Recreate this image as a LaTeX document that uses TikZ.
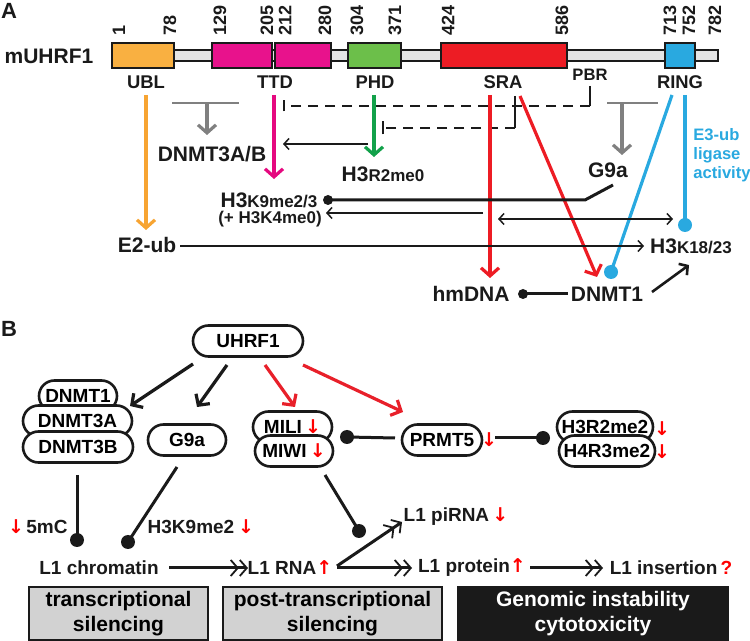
\documentclass[tikz,border=0pt]{standalone}
\usepackage{fontspec}
\setmainfont{Liberation Sans}
\newfontfamily\arrfont{DejaVu Sans}
\usetikzlibrary{arrows.meta,shapes.misc}
\definecolor{cUBL}{HTML}{F9B041}
\definecolor{lUBL}{HTML}{F7A432}
\definecolor{cTTD}{HTML}{E8128C}
\definecolor{lTTD}{HTML}{E5097F}
\definecolor{cPHD}{HTML}{6CBF4A}
\definecolor{lPHD}{HTML}{12A14A}
\definecolor{cSRA}{HTML}{ED1C24}
\definecolor{cRING}{HTML}{29A9E0}
\definecolor{cgrey}{HTML}{808080}
\definecolor{barg}{HTML}{E4E4E4}
\definecolor{boxg}{HTML}{D2D2D2}
\definecolor{rB}{HTML}{E8202A}
\definecolor{ink}{HTML}{1A1A1A}
\newcommand\fs[2]{\fontsize{#1}{#2}\selectfont\bfseries}
\newcommand\dn{{\arrfont\color{red}\char"2193}}
\newcommand\up{{\arrfont\color{red}\char"2191}}
\begin{document}
\begin{tikzpicture}[x=0.5pt,y=-0.5pt,
  lblA/.style={font=\fs{10.5}{12}, inner sep=1pt, text=ink},
  dom/.style={font=\fs{9.2}{11}, inner sep=1pt, text=ink},
  num/.style={font=\fs{9}{10}, rotate=90, anchor=west, inner sep=0pt, text=ink},
  lblB/.style={font=\fs{9.5}{11}, inner sep=1pt, text=ink},
  pill/.style={rounded rectangle, draw=ink, line width=1.3pt, fill=white, font=\fs{9.5}{11}, inner sep=0pt, minimum height=15.5pt},
  colar/.style={line width=1.6pt, -{Straight Barb[length=4pt,width=9pt]}},
  thinar/.style={line width=0.75pt, draw=ink, -{Straight Barb[length=2.5pt,width=5.5pt]}},
  dsh/.style={line width=1pt, draw=ink, dash pattern=on 5pt off 3.5pt},
  dotk/.style={circle, fill=ink, inner sep=0pt, minimum size=5pt},
  dotB/.style={circle, fill=ink, inner sep=0pt, minimum size=7pt},
  dotb/.style={circle, fill=cRING, inner sep=0pt, minimum size=7pt},
  barr/.style={line width=1.6pt, -{Straight Barb[length=4pt,width=8.5pt]}},
  dbl/.style={line width=1.5pt, draw=ink, -{Straight Barb[length=3.5pt,width=8pt,line width=0.9pt] Straight Barb[length=3.5pt,width=8pt,line width=0.9pt]}},
  bbox/.style={draw=ink, line width=1pt, align=center, font=\fs{10.5}{12.5}, inner sep=0pt, minimum height=26.5pt}
]
\useasboundingbox (0,0) rectangle (750,641);
% ---------------- Panel A ----------------
\node[lblA, font=\fs{11}{13}] (pA) at (9,11) {A};
\node[lblA] (mU) at (49,56) {mUHRF1};
\draw[line width=1pt, draw=ink, fill=barg] (112,50.5) rectangle (718,61.5);
\draw[line width=1pt, draw=ink, fill=cUBL] (112,43) rectangle (174,68);
\draw[line width=1pt, draw=ink, fill=cTTD] (212,43) rectangle (272,68);
\draw[line width=1pt, draw=ink, fill=cTTD] (275,43) rectangle (331,68);
\draw[line width=1pt, draw=ink, fill=cPHD] (348,43) rectangle (401,68);
\draw[line width=1pt, draw=ink, fill=cSRA] (441,43) rectangle (567,68);
\draw[line width=1pt, draw=ink, fill=cRING] (665,43) rectangle (695,68);
\foreach \x/\t in {119/1,170/78,220/129,267/205,285/212,325/280,357/304,395/371,448/424,562/586,670/713,689/752,715/782}
  \node[num] (n\t) at (\x,36) {\t};
\node[dom] (UBL) at (146,82) {UBL};
\node[dom] (TTD) at (275,82) {TTD};
\node[dom] (PHD) at (375,82) {PHD};
\node[dom] (SRA) at (503,82) {SRA};
\node[dom] (RING) at (680,82) {RING};
\node[dom, font=\fs{8.3}{10}] (PBR) at (590,75) {PBR};
% target labels
\node[lblA] (E2ub) at (147,245) {E2-ub};
\node[lblA] (D3AB) at (212,154) {DNMT3A/B};
\node[lblA] (H3R2) at (383,174) {H3{\fs{8.5}{10}R2me0}};
\node[lblA] (H3K9) at (269,200) {H3{\fs{8.5}{10}K9me2/3}};
\node[lblA, font=\fs{8.5}{10}] (H3K4) at (270,219) {(+ H3K4me0)};
\node[lblA] (G9aA) at (608,170) {G9a};
\node[lblA] (H3K18) at (691,246) {H3{\fs{8.5}{10}K18/23}};
\node[lblA] (hmDNA) at (471,294) {hmDNA};
\node[lblA] (DNMT1A) at (607,294) {DNMT1};
\node[lblA, font=\fs{8.3}{9.5}, text=cRING, align=left, anchor=north west] (E3) at (691,126) {E3-ub\\ligase\\activity};
% coordinates
\coordinate (o1) at (146,95); \coordinate (o2) at (146,230);
\coordinate (g1) at (172,103); \coordinate (g2) at (239,103); \coordinate (g3) at (207,103); \coordinate (g4) at (207,135);
\coordinate (m1) at (274,95); \coordinate (m2) at (274,179);
\coordinate (p1) at (374,95); \coordinate (p2) at (374,157);
\coordinate (pb1) at (590,86); \coordinate (pb2) at (590,106); \coordinate (t1) at (283,106);
\coordinate (s1) at (515,96); \coordinate (s2) at (515,128); \coordinate (t2) at (382,128);
\coordinate (a1) at (368,144); \coordinate (a2) at (283,144);
\coordinate (r1) at (490,95); \coordinate (r2) at (490,278);
\coordinate (r3) at (520,96); \coordinate (r4) at (597,277);
\coordinate (h1) at (607,103); \coordinate (h2) at (658,103); \coordinate (h3) at (622,103); \coordinate (h4) at (622,155);
\coordinate (b1) at (672,95); \coordinate (b3) at (685,95);
\node[dotb] (bd1) at (611,272) {};
\node[dotb] (bd2) at (685,225) {};
\node[dotk] (kd) at (328,200) {};
\coordinate (k1) at (585,200); \coordinate (k2) at (613,185);
\coordinate (q1) at (483,213); \coordinate (q2) at (326,213);
\coordinate (d1) at (498,219); \coordinate (d2) at (673,219);
\coordinate (e1) at (180,246); \coordinate (e2) at (644,246);
\node[dotk] (hd) at (523,294) {};
\coordinate (hm2) at (568,294);
\coordinate (x1) at (652,292); \coordinate (x2) at (689,265);
% connectors
\draw[colar, draw=lUBL] (o1) -- (o2);
\draw[line width=1.3pt, draw=cgrey] (g1) -- (g2);
\draw[colar, draw=cgrey] (g3) -- (g4);
\draw[colar, draw=lTTD] (m1) -- (m2);
\draw[colar, draw=lPHD] (p1) -- (p2);
\draw[line width=1pt, draw=ink] (pb1) -- (pb2);
\draw[dsh, -{Bar[width=5.5pt]}] (pb2) -- (t1);
\draw[line width=1pt, draw=ink] (s1) -- (s2);
\draw[dsh, -{Bar[width=6.5pt]}] (s2) -- (t2);
\draw[thinar] (a1) -- (a2);
\draw[colar, draw=cSRA] (r1) -- (r2);
\draw[colar, draw=cSRA] (r3) -- (r4);
\draw[line width=1.3pt, draw=cgrey] (h1) -- (h2);
\draw[colar, draw=cgrey] (h3) -- (h4);
\draw[line width=1.6pt, draw=cRING] (b1) -- (bd1.center);
\draw[line width=1.6pt, draw=cRING] (b3) -- (bd2.center);
\draw[line width=1.5pt, draw=ink] (kd.center) -- (k1) -- (k2);
\draw[thinar] (q1) -- (q2);
\draw[thinar, {Straight Barb[length=2.5pt,width=5.5pt]}-{Straight Barb[length=2.5pt,width=5.5pt]}] (d1) -- (d2);
\draw[thinar] (e1) -- (e2);
\draw[line width=1.5pt, draw=ink] (hd.center) -- (hm2);
\draw[line width=1.3pt, draw=ink, -{Straight Barb[length=3pt,width=7pt]}] (x1) -- (x2);
% ---------------- Panel B ----------------
\node[lblA, font=\fs{11}{13}] (pB) at (9,329) {B};
\node[pill, minimum width=55pt] (UHRF1) at (248,341) {UHRF1};
\node[pill, minimum width=39pt] (DN1) at (78,396) {DNMT1};
\node[pill, minimum width=54.5pt] (DN3A) at (77.5,421) {DNMT3A};
\node[pill, minimum width=55pt] (DN3B) at (78,447) {DNMT3B};
\node[pill, minimum width=39pt] (G9a) at (187,440) {G9a};
\node[pill, minimum width=39.5pt] (MILI) at (292.5,427) {MILI\,\dn};
\node[pill, minimum width=39pt] (MIWI) at (294,451) {MIWI\,\dn};
\node[pill, minimum width=40pt] (PRMT5) at (442,440) {PRMT5};
\node[lblB, inner sep=0pt] (PRdn) at (489,440) {\dn};
\node[pill, minimum width=48pt] (H3R2B) at (605,427) {H3R2me2};
\node[pill, minimum width=48pt] (H4R3B) at (607,451) {H4R3me2};
\node[lblB, inner sep=0pt] (H3dn) at (662,429) {\dn};
\node[lblB, inner sep=0pt] (H4dn) at (662,452) {\dn};
% arrows from UHRF1
\coordinate (u1) at (193,364); \coordinate (u1e) at (130,406);
\coordinate (u2) at (227,365); \coordinate (u2e) at (197,407);
\coordinate (u3) at (265,365); \coordinate (u3e) at (295,407);
\coordinate (u4) at (303,365); \coordinate (u4e) at (403,412);
\draw[barr, draw=ink] (u1) -- (u1e);
\draw[barr, draw=ink] (u2) -- (u2e);
\draw[barr, draw=rB] (u3) -- (u3e);
\draw[barr, draw=rB] (u4) -- (u4e);
% dot connectors
\node[dotB] (dm) at (347,437) {};
\coordinate (pl) at (395,438);
\draw[line width=1.5pt, draw=ink] (pl) -- (dm.center);
\coordinate (pr) at (495,438);
\node[dotB] (dh) at (543,438) {};
\draw[line width=1.5pt, draw=ink] (pr) -- (dh.center);
\coordinate (c1) at (77,475); \node[dotB] (cd1) at (77,540) {};
\draw[line width=1.5pt, draw=ink] (c1) -- (cd1.center);
\coordinate (c2) at (177,467); \node[dotB] (cd2) at (128,542) {};
\draw[line width=1.5pt, draw=ink] (c2) -- (cd2.center);
\coordinate (c3) at (325,475); \node[dotB] (cd3) at (359,531) {};
\draw[line width=1.5pt, draw=ink] (c3) -- (cd3.center);
% labels bottom
\node[lblB, inner sep=0pt] (mCdn) at (16,527) {\dn};
\node[lblB] (m5C) at (47,527) {5mC};
\node[lblB] (K9B) at (191,527) {H3K9me2};
\node[lblB, inner sep=0pt] (K9dn) at (246,527) {\dn};
\node[lblB] (L1c) at (99,568) {L1 chromatin};
\node[lblB] (L1r) at (290,568) {L1 RNA\up};
\node[lblB] (L1pi) at (456,517) {L1 piRNA\,\dn};
\node[lblB] (L1p) at (472,568) {L1 protein\up};
\node[lblB] (L1i) at (671,568) {L1 insertion\,{\color{red}?}};
\coordinate (f1) at (169,568); \coordinate (f2) at (248,568);
\coordinate (f3) at (337,566); \coordinate (f4) at (402,522);
\coordinate (f5) at (337,568); \coordinate (f6) at (412,568);
\coordinate (f7) at (530,568); \coordinate (f8) at (603,568);
\draw[dbl] (f1) -- (f2);
\draw[dbl] (f3) -- (f4);
\draw[dbl] (f5) -- (f6);
\draw[dbl] (f7) -- (f8);
% bottom boxes
\node[bbox, fill=boxg, minimum width=89.5pt] (ts) at (118.5,613.5) {transcriptional\\silencing};
\node[bbox, fill=boxg, minimum width=109.5pt] (pts) at (332.5,613.5) {post-transcriptional\\silencing};
\node[bbox, fill=ink, text=white, minimum width=135pt] (gi) at (593,613.5) {Genomic instability\\cytotoxicity};
\end{tikzpicture}
\end{document}
